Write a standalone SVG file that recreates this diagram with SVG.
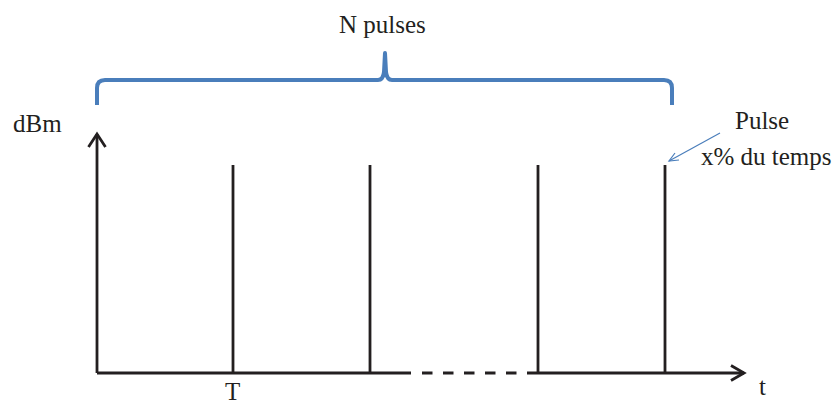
<svg xmlns="http://www.w3.org/2000/svg" width="837" height="407" viewBox="0 0 837 407">
<style>
  .ax { stroke:#231f20; stroke-width:2.8; fill:none; stroke-linecap:butt; }
  .pl { stroke:#231f20; stroke-width:2.8; fill:none; }
  .br { stroke:#4a7ebb; stroke-width:4; fill:none; stroke-linejoin:round; }
  .lbl { font-size:25px; fill:#231f20; }
</style>
<rect width="837" height="407" fill="#ffffff"/>
<g id="connectors">
  <path class="ax" d="M97,373 V134"/>
  <path class="ax" d="M88.5,147 L97,134 L105.5,147"/>
  <path class="ax" d="M97,373 H411"/>
  <path class="ax" d="M422,373 H527" stroke-dasharray="10.5,10.5"/>
  <path class="ax" d="M527,373 H744"/>
  <path class="ax" d="M731,365.5 L744,373 L731,380.5"/>
  <path d="M720,133 L669,161" stroke="#4a7ebb" stroke-width="1.2" fill="none"/>
  <path d="M675,153 L669,161 L679,160" stroke="#4a7ebb" stroke-width="1.2" fill="none"/>
</g>
<g id="pulses">
  <line class="pl" x1="233" y1="165" x2="233" y2="373"/>
  <line class="pl" x1="370" y1="165" x2="370" y2="373"/>
  <line class="pl" x1="538" y1="165" x2="538" y2="373"/>
  <line class="pl" x1="665" y1="165" x2="665" y2="373"/>
</g>
<g id="brace">
  <path class="br" d="M97,105 V88 Q97,80 105,80 H378 Q383,80 384,72 L385,53 L386,72 Q387,80 392,80 H664 Q672,80 672,88 V105"/>
</g>
<g id="labels" font-family="'Liberation Serif', 'DejaVu Serif', serif">
  <text class="lbl" x="339" y="33">N pulses</text>
  <text class="lbl" x="13" y="132">dBm</text>
  <text class="lbl" x="735" y="129">Pulse</text>
  <text class="lbl" x="701" y="165">x% du temps</text>
  <text class="lbl" x="225" y="400">T</text>
  <text class="lbl" x="759" y="395">t</text>
</g>
</svg>
